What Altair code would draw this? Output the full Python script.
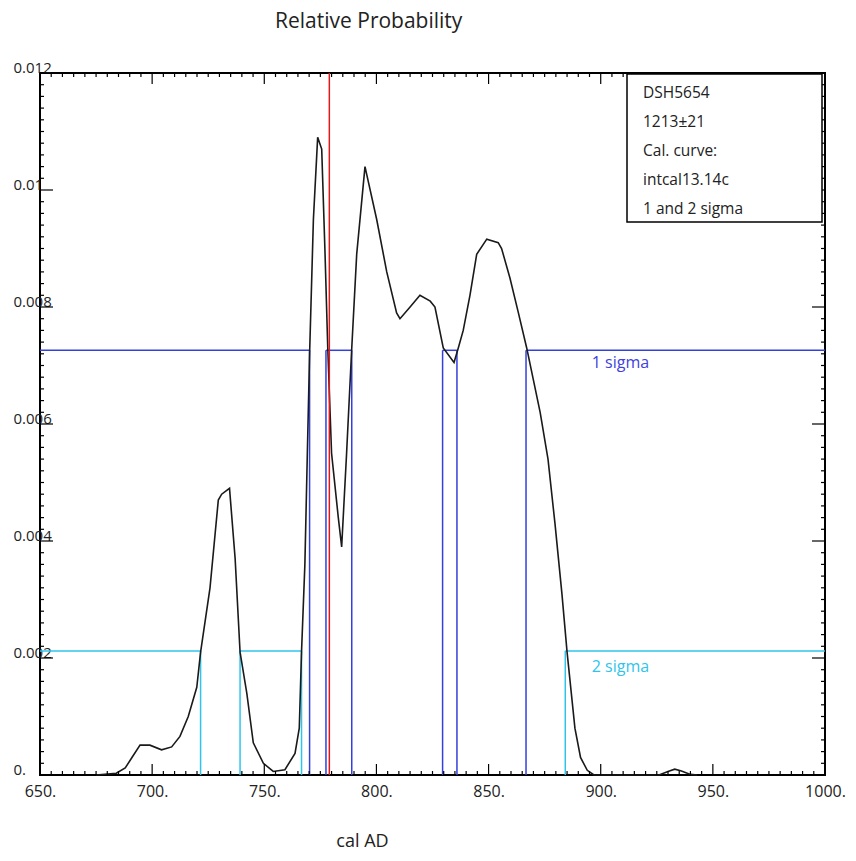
import altair as alt
import numpy as np
import pandas as pd

# ---- data ----
years = [675, 684, 688, 691, 694.6, 699, 704.2, 708.7, 712.4, 716.1, 719.9, 721.6,
         725.8, 729.5, 731, 734.5, 737, 739.2, 742.2, 745.1, 749.6, 754, 759.2,
         763.7, 765.6, 766.6, 768.1, 769.2, 770.2, 771.9, 773.8, 775.6, 777.1,
         778.3, 780, 783, 784.5, 786.7, 789, 791.2, 794.9, 800.1, 804.6, 809,
         810.5, 815, 819.4, 824, 826.1, 829.8, 834.6, 836.5, 838.7, 841.7, 844.7,
         849.2, 854.3, 855.8, 859.5, 863.3, 867, 870, 873, 876.5, 879.6, 882.7,
         885, 888.5, 891, 894, 897, 926, 930, 933, 936, 940, 943]
prob = [0, 0.00003, 0.00012, 0.0003, 0.00051, 0.00051, 0.00043, 0.00048, 0.00066,
        0.001, 0.0015, 0.0021, 0.0032, 0.0047, 0.0048, 0.0049, 0.0037, 0.0021,
        0.0014, 0.00055, 0.0002, 0.00006, 0.00009, 0.00037, 0.0008, 0.0021,
        0.0036, 0.0055, 0.0072, 0.0095, 0.0109, 0.0107, 0.0089, 0.0073, 0.0055,
        0.0044, 0.0039, 0.0055, 0.0073, 0.0089, 0.0104, 0.0095, 0.0086, 0.0079,
        0.0078, 0.0080, 0.0082, 0.0081, 0.0080, 0.0073, 0.00705, 0.0073, 0.0076,
        0.0082, 0.0089, 0.00916, 0.0091, 0.0090, 0.0085, 0.0079, 0.0073, 0.00675,
        0.0062, 0.0054, 0.0043, 0.0031, 0.0021, 0.0008, 0.0003, 0.00008, 0,
        0, 0.00006, 0.0001, 0.00007, 0.00001, 0]

sigma1_bounds = [770.2, 777.5, 789.0, 829.5, 835.9, 866.7]
sigma2_bounds = [721.6, 739.2, 766.6, 884.2]
sigma1_level = 0.00726
sigma2_level = 0.00212
marker_year = 779.0

x_major = [650, 700, 750, 800, 850, 900, 950, 1000]
y_major = [0, 0.002, 0.004, 0.006, 0.008, 0.010, 0.012]
legend_lines = ["DSH5654", "1213\u00b121", "Cal. curve:", "intcal13.14c", "1 and 2 sigma"]
sigma_labels = ["1 sigma", "2 sigma"]

# ---- styling ----
W, H = 785, 702
FONT = "Open Sans"
BLUE = "#3340dd"
CYAN = "#30c4ec"
RED = "#e01818"
INK = "#222222"

xs = alt.Scale(domain=[650, 1000], nice=False, zero=False)
ys = alt.Scale(domain=[0, 0.012], nice=False, zero=False)

XAXIS = alt.Axis(values=x_major, ticks=False, tickSize=0, domain=False, grid=False,
                 labelExpr="format(datum.value, 'd') + '.'",
                 labelFont=FONT, labelFontSize=16, labelColor=INK,
                 labelPadding=8, labelFlush=False, labelOverlap=False,
                 title="cal AD", titleFont=FONT, titleFontSize=18,
                 titleFontWeight="normal", titleColor=INK,
                 titleX=322, titleY=71, titleAlign="center",
                 titleBaseline="alphabetic")
YAXIS = alt.Axis(values=y_major, ticks=False, tickSize=0, domain=False, grid=False,
                 labelExpr="datum.value == 0 ? '0.' : format(datum.value, '.3~f')",
                 labelFont=FONT, labelFontSize=15, labelColor=INK,
                 labelAlign="left", labelBaseline="alphabetic", labelPadding=27,
                 labelOffset=-1, labelFlush=False, labelOverlap=False,
                 labelBound=False, title=None)


def X(field):
    return alt.X(field, type="quantitative", scale=xs, axis=XAXIS)


def Y(field):
    return alt.Y(field, type="quantitative", scale=ys, axis=YAXIS)


curve_df = pd.DataFrame({"year": years, "p": prob})
curve = alt.Chart(curve_df).mark_line(color="#1a1a1a", strokeWidth=1.6).encode(
    x=X("year"), y=Y("p"))


def gaps(bounds):
    edges = [650] + bounds + [1000]
    return pd.DataFrame({"x": edges[0::2], "x2": edges[1::2]})


def sigma_layers(bounds, level, color):
    h = gaps(bounds)
    h["y"] = level
    v = pd.DataFrame({"x": bounds, "y": 0.0, "y2": level})
    hor = alt.Chart(h).mark_rule(color=color, strokeWidth=1.5).encode(
        x=X("x"), x2="x2", y=Y("y"))
    ver = alt.Chart(v).mark_rule(color=color, strokeWidth=1.5).encode(
        x=X("x"), y=Y("y"), y2="y2")
    return [hor, ver]


red = alt.Chart(pd.DataFrame({"x": [marker_year], "y": [0.0], "y2": [0.012]})).mark_rule(
    color=RED, strokeWidth=1.5).encode(x=X("x"), y=Y("y"), y2="y2")

# ---- inward ticks on all four sides ----
x_minor = [float(v) for v in np.arange(650, 1001, 5) if v % 50 != 0]
y_minor = [round(float(v), 4) for v in np.arange(0, 0.01201, 0.0002)
           if abs(v / 0.002 - round(v / 0.002)) > 1e-6]


def xticks(vals, length):
    d = pd.DataFrame({"x": vals})
    b = alt.Chart(d).mark_rule(color="black", strokeWidth=1.2).encode(
        x=X("x"), y=alt.value(H), y2=alt.value(H - length))
    t = alt.Chart(d).mark_rule(color="black", strokeWidth=1.2).encode(
        x=X("x"), y=alt.value(0), y2=alt.value(length))
    return [b, t]


def yticks(vals, length):
    d = pd.DataFrame({"y": vals})
    l = alt.Chart(d).mark_rule(color="black", strokeWidth=1.2).encode(
        y=Y("y"), x=alt.value(0), x2=alt.value(length))
    r = alt.Chart(d).mark_rule(color="black", strokeWidth=1.2).encode(
        y=Y("y"), x=alt.value(W), x2=alt.value(W - length))
    return [l, r]


ticks = xticks(x_major, 11) + xticks(x_minor, 4) + yticks(y_major, 13) + yticks(y_minor, 4)

# ---- legend box ----
box = alt.Chart(pd.DataFrame({"a": [0]})).mark_rect(
    fill="white", stroke="black", strokeWidth=1.5).encode(
    x=alt.value(587), x2=alt.value(782), y=alt.value(1), y2=alt.value(149))

legend_texts = []
for i, line in enumerate(legend_lines):
    legend_texts.append(
        alt.Chart(pd.DataFrame({"t": [line]})).mark_text(
            align="left", baseline="alphabetic", font=FONT, fontSize=15.5, color=INK).encode(
            x=alt.value(603), y=alt.value(25 + 29 * i), text="t:N"))

s1 = alt.Chart(pd.DataFrame({"x": [896], "y": [sigma1_level], "t": [sigma_labels[0]]})).mark_text(
    align="left", baseline="alphabetic", dy=18, font=FONT, fontSize=16, color="#4040e0").encode(
    x=X("x"), y=Y("y"), text="t:N")
s2 = alt.Chart(pd.DataFrame({"x": [896], "y": [sigma2_level], "t": [sigma_labels[1]]})).mark_text(
    align="left", baseline="alphabetic", dy=21, font=FONT, fontSize=16, color=CYAN).encode(
    x=X("x"), y=Y("y"), text="t:N")

layers = (sigma_layers(sigma2_bounds, sigma2_level, CYAN)
          + sigma_layers(sigma1_bounds, sigma1_level, BLUE)
          + [curve, red] + ticks + [box] + legend_texts + [s1, s2])

chart = alt.layer(*layers).properties(
    width=W, height=H,
    autosize=alt.AutoSizeParams(type="none"),
    padding={"left": 32, "top": 65, "right": 23, "bottom": 74},
    title=alt.TitleParams("Relative Probability", anchor="start", frame="group", dx=235,
                          offset=7, font=FONT, fontSize=21, fontWeight="normal", color=INK,
                          baseline="bottom"),
).configure_view(stroke="black", strokeWidth=2)

chart.save("out.html", embed_options={"renderer": "svg", "actions": False})
